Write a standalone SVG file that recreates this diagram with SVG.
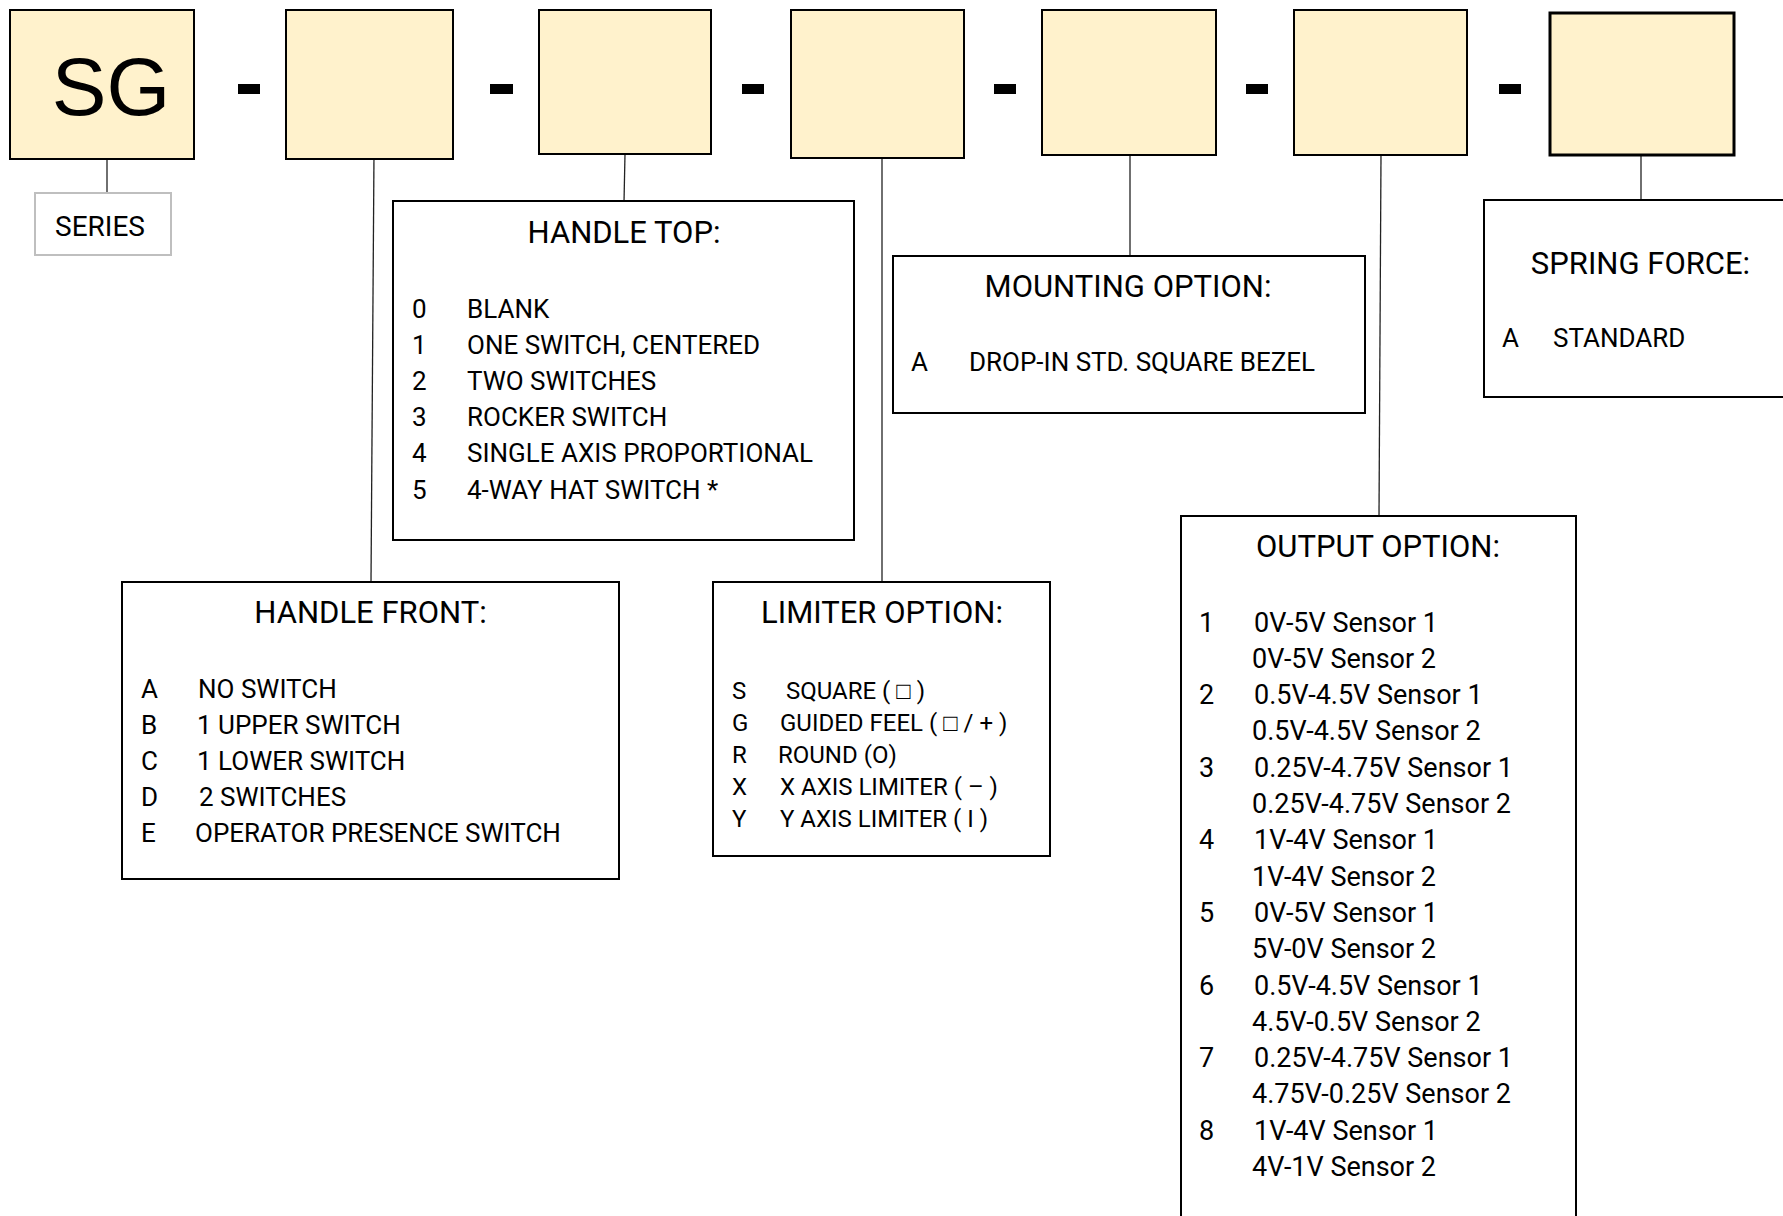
<svg xmlns="http://www.w3.org/2000/svg" width="1783" height="1216" viewBox="0 0 1783 1216">
<style>
.code{fill:#FFF2CC;stroke:#000;stroke-width:2}
.dash{fill:#000}
.box{fill:#fff;stroke:#000;stroke-width:2}
.conn line{stroke:#222;stroke-width:1.3}
text{font-family:Roboto,"Liberation Sans",Arial,sans-serif;fill:#000}
.title{font-size:31px;text-anchor:middle}
.row{font-size:26px}
.lim{font-size:24px}
.out{font-size:27px}
</style>
<rect width="1783" height="1216" fill="#fff"/>
<g id="connectors" class="conn">
<line x1="107" y1="159" x2="107" y2="193"/>
<line x1="374" y1="153" x2="371" y2="582"/>
<line x1="625" y1="154" x2="624" y2="202"/>
<line x1="882" y1="152" x2="882" y2="582"/>
<line x1="1130" y1="155" x2="1130" y2="256"/>
<line x1="1381" y1="155" x2="1379" y2="516"/>
<line x1="1641" y1="155" x2="1641" y2="200"/>
</g>
<g id="code-sg"><rect class="code" x="10" y="10" width="184" height="149"/><text x="111" y="115" style="font-family:'Liberation Sans',Arial,sans-serif;font-size:82px" text-anchor="middle">SG</text></g>
<g id="dashes">
<rect class="dash" x="238" y="84" width="22" height="10"/>
<rect class="dash" x="490" y="84" width="23" height="10"/>
<rect class="dash" x="742" y="84" width="22" height="10"/>
<rect class="dash" x="994" y="84" width="22" height="10"/>
<rect class="dash" x="1246" y="84" width="22" height="10"/>
<rect class="dash" x="1499" y="84" width="22" height="10"/>
</g>
<g id="code-2"><rect class="code" x="286" y="10" width="167" height="149"/></g>
<g id="code-3"><rect class="code" x="539" y="10" width="172" height="144"/></g>
<g id="code-4"><rect class="code" x="791" y="10" width="173" height="148"/></g>
<g id="code-5"><rect class="code" x="1042" y="10" width="174" height="145"/></g>
<g id="code-6"><rect class="code" x="1294" y="10" width="173" height="145"/></g>
<g id="code-7"><rect class="code" x="1550" y="13" width="184" height="142" style="stroke-width:3"/></g>
<g id="series"><rect x="35" y="193" width="136" height="62" fill="#fff" stroke="#BFBFBF" stroke-width="2"/><text x="100" y="236" style="font-size:28px" text-anchor="middle">SERIES</text></g>
<g id="handle-top">
<rect class="box" x="393" y="201" width="461" height="339"/>
<text class="title" x="624" y="243">HANDLE TOP:</text>
<g class="row">
<text x="412" y="317.5">0</text><text x="467" y="317.5">BLANK</text>
<text x="412" y="353.7">1</text><text x="467" y="353.7">ONE SWITCH, CENTERED</text>
<text x="412" y="389.9">2</text><text x="467" y="389.9">TWO SWITCHES</text>
<text x="412" y="426.1">3</text><text x="467" y="426.1">ROCKER SWITCH</text>
<text x="412" y="462.3">4</text><text x="467" y="462.3">SINGLE AXIS PROPORTIONAL</text>
<text x="412" y="498.5">5</text><text x="467" y="498.5">4-WAY HAT SWITCH *</text>
</g>
</g>
<g id="handle-front">
<rect class="box" x="122" y="582" width="497" height="297"/>
<text class="title" x="370.5" y="623">HANDLE FRONT:</text>
<g class="row">
<text x="141" y="697.5">A</text><text x="198" y="697.5">NO SWITCH</text>
<text x="141" y="733.7">B</text><text x="197" y="733.7">1 UPPER SWITCH</text>
<text x="141" y="769.9">C</text><text x="197" y="769.9">1 LOWER SWITCH</text>
<text x="141" y="806.1">D</text><text x="199" y="806.1">2 SWITCHES</text>
<text x="141" y="842.3">E</text><text x="195" y="842.3">OPERATOR PRESENCE SWITCH</text>
</g>
</g>
<g id="limiter">
<rect class="box" x="713" y="582" width="337" height="274"/>
<text class="title" x="882" y="623">LIMITER OPTION:</text>
<g class="lim">
<text x="732" y="699">S</text><text x="786" y="699">SQUARE ( □ )</text>
<text x="732" y="731">G</text><text x="780" y="731">GUIDED FEEL ( □ / + )</text>
<text x="732" y="763">R</text><text x="778" y="763">ROUND (O)</text>
<text x="732" y="795">X</text><text x="780" y="795">X AXIS LIMITER ( – )</text>
<text x="732" y="827">Y</text><text x="780" y="827">Y AXIS LIMITER ( I )</text>
</g>
</g>
<g id="mounting">
<rect class="box" x="893" y="256" width="472" height="157"/>
<text class="title" x="1128" y="297">MOUNTING OPTION:</text>
<text class="row" x="911" y="371">A</text><text class="row" x="969" y="371">DROP-IN STD. SQUARE BEZEL</text>
</g>
<g id="spring">
<rect class="box" x="1484" y="200" width="320" height="197"/>
<text class="title" x="1640.5" y="274">SPRING FORCE:</text>
<text class="row" x="1502" y="347">A</text><text class="row" x="1553" y="347">STANDARD</text>
</g>
<g id="output">
<rect class="box" x="1181" y="516" width="395" height="720"/>
<text class="title" x="1378" y="557">OUTPUT OPTION:</text>
<g class="out">
<text x="1199" y="631.5">1</text><text x="1254" y="631.5">0V-5V Sensor 1</text>
<text x="1252" y="667.8">0V-5V Sensor 2</text>
<text x="1199" y="704.1">2</text><text x="1254" y="704.1">0.5V-4.5V Sensor 1</text>
<text x="1252" y="740.4">0.5V-4.5V Sensor 2</text>
<text x="1199" y="776.7">3</text><text x="1254" y="776.7">0.25V-4.75V Sensor 1</text>
<text x="1252" y="813">0.25V-4.75V Sensor 2</text>
<text x="1199" y="849.3">4</text><text x="1254" y="849.3">1V-4V Sensor 1</text>
<text x="1252" y="885.6">1V-4V Sensor 2</text>
<text x="1199" y="921.9">5</text><text x="1254" y="921.9">0V-5V Sensor 1</text>
<text x="1252" y="958.2">5V-0V Sensor 2</text>
<text x="1199" y="994.5">6</text><text x="1254" y="994.5">0.5V-4.5V Sensor 1</text>
<text x="1252" y="1030.8">4.5V-0.5V Sensor 2</text>
<text x="1199" y="1067.1">7</text><text x="1254" y="1067.1">0.25V-4.75V Sensor 1</text>
<text x="1252" y="1103.4">4.75V-0.25V Sensor 2</text>
<text x="1199" y="1139.7">8</text><text x="1254" y="1139.7">1V-4V Sensor 1</text>
<text x="1252" y="1176">4V-1V Sensor 2</text>
</g>
</g>
</svg>
